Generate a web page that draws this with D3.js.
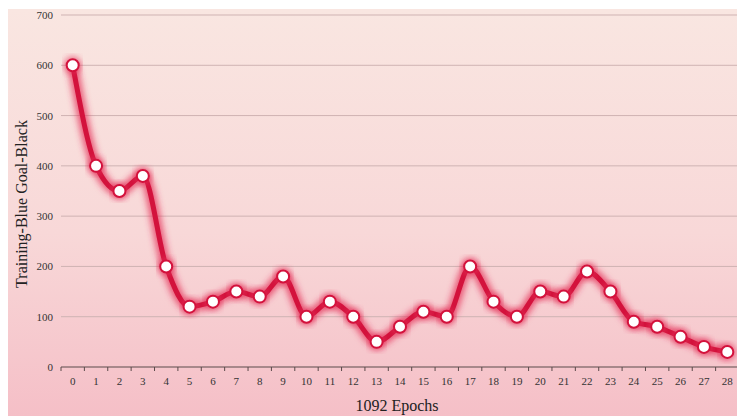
<!DOCTYPE html>
<html>
<head>
<meta charset="utf-8">
<script src="https://cdn.jsdelivr.net/npm/d3@7"></script>
<style>
  html, body { margin: 0; padding: 0; background: #ffffff; }
  svg { display: block; }
</style>
</head>
<body>
<svg id="chart" width="737" height="416"></svg>
<script>
// Loss per epoch
const epochs = d3.range(0, 29).map(String);
const lossValues = [600, 400, 350, 380, 200, 120, 130, 150, 140, 180, 100, 130, 100, 50, 80, 110,
                    100, 200, 130, 100, 150, 140, 190, 150, 90, 80, 60, 40, 30];
const yTicks = [0, 100, 200, 300, 400, 500, 600, 700];

const W = 737, H = 416;
const margin = { top: 15, right: -2, bottom: 49, left: 61 };
const svg = d3.select("#chart");

const defs = svg.append("defs");
const bg = defs.append("linearGradient").attr("id", "bg").attr("x1", 0).attr("y1", 0).attr("x2", 0).attr("y2", 1);
bg.append("stop").attr("offset", "0%").attr("stop-color", "#f9e6e1");
bg.append("stop").attr("offset", "55%").attr("stop-color", "#f8d8d8");
bg.append("stop").attr("offset", "100%").attr("stop-color", "#f5bfc7");

const glow = defs.append("filter").attr("id", "glow")
  .attr("x", "-10%").attr("y", "-20%").attr("width", "120%").attr("height", "140%");
glow.append("feGaussianBlur").attr("stdDeviation", 3);

const gridShadow = defs.append("filter").attr("id", "gshadow")
  .attr("x", "-5%").attr("y", "-300%").attr("width", "110%").attr("height", "700%");
gridShadow.append("feGaussianBlur").attr("stdDeviation", 0.8);

svg.append("rect").attr("x", 8).attr("y", 9).attr("width", W - 8).attr("height", H - 9)
  .attr("fill", "url(#bg)");

const x = d3.scaleBand().domain(epochs).range([margin.left, W - margin.right]).paddingInner(0).paddingOuter(0);
const y = d3.scaleLinear().domain([0, 700]).range([H - margin.bottom, margin.top]);

// Gridlines with a soft shadow beneath
const grid = svg.append("g");
yTicks.filter(d => d > 0).forEach(t => {
  grid.append("line").attr("x1", margin.left).attr("x2", W)
    .attr("y1", y(t) + 1.5).attr("y2", y(t) + 1.5)
    .attr("stroke", "#e0c4c4").attr("stroke-width", 2).attr("filter", "url(#gshadow)");
  grid.append("line").attr("x1", margin.left).attr("x2", W)
    .attr("y1", y(t)).attr("y2", y(t))
    .attr("stroke", "#cfb3b3").attr("stroke-width", 1);
});

// Y axis labels
const yAxis = svg.append("g").attr("transform", `translate(${margin.left},0)`)
  .call(d3.axisLeft(y).tickValues(yTicks).tickSize(0).tickPadding(8));
yAxis.select(".domain").remove();
yAxis.selectAll("text").attr("font-family", "Liberation Serif, serif").attr("font-size", 11).attr("fill", "#333");

// X axis with ticks between categories
const xAxisG = svg.append("g").attr("transform", `translate(0,${y(0)})`);
xAxisG.append("line").attr("x1", margin.left).attr("x2", W).attr("stroke", "#5a4a4a").attr("stroke-width", 1);
const tickPos = epochs.map(e => x(e)).concat([x(epochs[epochs.length - 1]) + x.bandwidth()]);
xAxisG.selectAll("line.tk").data(tickPos).join("line").attr("class", "tk")
  .attr("x1", d => d).attr("x2", d => d).attr("y1", 0).attr("y2", 4)
  .attr("stroke", "#5a4a4a").attr("stroke-width", 1);
xAxisG.selectAll("text").data(epochs).join("text")
  .attr("x", d => x(d) + x.bandwidth() / 2).attr("y", 18)
  .attr("text-anchor", "middle")
  .attr("font-family", "Liberation Serif, serif").attr("font-size", 11).attr("fill", "#333")
  .text(d => d);

// Axis titles
svg.append("text").attr("x", (margin.left + W) / 2 - 2).attr("y", 411)
  .attr("text-anchor", "middle").attr("font-family", "Liberation Serif, serif")
  .attr("font-size", 16).attr("fill", "#222").text("1092 Epochs");
svg.append("text").attr("transform", `translate(27,${204}) rotate(-90)`)
  .attr("text-anchor", "middle").attr("font-family", "Liberation Serif, serif")
  .attr("font-size", 16).attr("fill", "#222").text("Training-Blue Goal-Black");

// Loss line
const pts = epochs.map((e, i) => [x(e) + x.bandwidth() / 2, y(lossValues[i])]);
const line = d3.line().curve(d3.curveMonotoneX);

svg.append("path").attr("d", line(pts)).attr("fill", "none")
  .attr("stroke", "#e4305a").attr("stroke-opacity", 0.75).attr("stroke-width", 11)
  .attr("stroke-linejoin", "round").attr("filter", "url(#glow)");
svg.append("path").attr("d", line(pts)).attr("fill", "none")
  .attr("stroke", "#d3123c").attr("stroke-width", 5).attr("stroke-linejoin", "round");

const marks = svg.append("g");
marks.selectAll("circle.halo").data(pts).join("circle").attr("class", "halo")
  .attr("cx", d => d[0]).attr("cy", d => d[1]).attr("r", 8.5)
  .attr("fill", "#e4305a").attr("opacity", 0.7).attr("filter", "url(#glow)");
marks.selectAll("circle.pt").data(pts).join("circle").attr("class", "pt")
  .attr("cx", d => d[0]).attr("cy", d => d[1]).attr("r", 6)
  .attr("fill", "#ffffff").attr("stroke", "#d3123c").attr("stroke-width", 2);
</script>
</body>
</html>
